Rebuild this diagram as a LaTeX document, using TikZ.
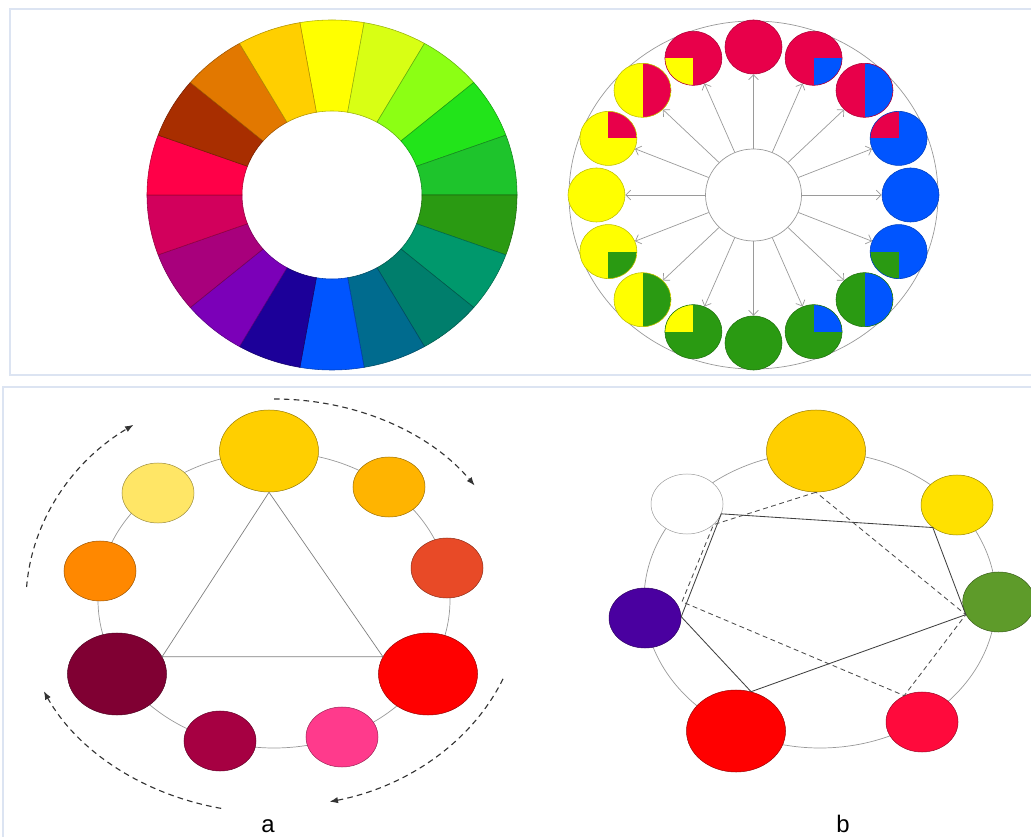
\documentclass[tikz,border=0pt]{standalone}
\usepackage{fontspec}
\setmainfont{Liberation Sans}
\usetikzlibrary{shapes.geometric,arrows.meta}

\definecolor{framecol}{HTML}{DCE4F2}
\definecolor{ringgray}{HTML}{999999}
\definecolor{spokegray}{HTML}{9A9A9A}
\definecolor{cred}{HTML}{E8004A}
\definecolor{cblue}{HTML}{0055FF}
\definecolor{cgreen}{HTML}{2A9A12}
\definecolor{cyellow}{HTML}{FFFF00}
\definecolor{wlime}{HTML}{D8FF14}
\definecolor{wleaf}{HTML}{8CFF14}
\definecolor{wgrass}{HTML}{22E41A}
\definecolor{wfern}{HTML}{1EC42C}
\definecolor{wjade}{HTML}{00986C}
\definecolor{wteal}{HTML}{007E6C}
\definecolor{wpetrol}{HTML}{006B8E}
\definecolor{windigo}{HTML}{1C0099}
\definecolor{wviolet}{HTML}{7B00B8}
\definecolor{wplum}{HTML}{A8007C}
\definecolor{wrose}{HTML}{D2005C}
\definecolor{wscarlet}{HTML}{FF0048}
\definecolor{wrust}{HTML}{A82E00}
\definecolor{wamber}{HTML}{E27800}
\definecolor{agold}{HTML}{FFCF00}
\definecolor{aamber}{HTML}{FFB400}
\definecolor{avermil}{HTML}{E84A27}
\definecolor{ared}{HTML}{FF0000}
\definecolor{apink}{HTML}{FF3A8C}
\definecolor{acrimson}{HTML}{A60042}
\definecolor{amaroon}{HTML}{800033}
\definecolor{aorange}{HTML}{FF8800}
\definecolor{alemon}{HTML}{FFE666}
\definecolor{byellow}{HTML}{FFE100}
\definecolor{bgreen}{HTML}{5E9B2A}
\definecolor{bpurple}{HTML}{4A00A0}
\definecolor{bcrimson}{HTML}{FF0A3C}

\newcommand{\ringpart}[3]{%
  \filldraw[fill=#3, draw=#3!70!black, line width=0.4pt]
    (#1:185 and 175) arc[start angle=#1, end angle=#2, x radius=185, y radius=175]
    -- (#2:90 and 84) arc[start angle=#2, end angle=#1, x radius=90, y radius=84] -- cycle;}

\tikzset{
  disc/.style={ellipse, inner sep=0pt, minimum width=1.425cm, minimum height=1.35cm,
    fill=#1, draw=#1!75!black, line width=0.4pt},
  qnw/.style={path picture={\fill[#1] (path picture bounding box.center) rectangle (path picture bounding box.north west);}},
  qne/.style={path picture={\fill[#1] (path picture bounding box.center) rectangle (path picture bounding box.north east);}},
  qsw/.style={path picture={\fill[#1] (path picture bounding box.center) rectangle (path picture bounding box.south west);}},
  qse/.style={path picture={\fill[#1] (path picture bounding box.center) rectangle (path picture bounding box.south east);}},
  halfe/.style={path picture={\fill[#1] (path picture bounding box.north) rectangle (path picture bounding box.south east);}},
  hub/.style={ellipse, inner sep=0pt, minimum width=2.4cm, minimum height=2.3cm,
    draw=spokegray, fill=white, line width=0.5pt},
  spoke/.style={draw=spokegray, line width=0.5pt, -{Straight Barb[length=3.5pt,width=7pt]}},
  blob/.style={ellipse, inner sep=0pt, fill=#1, draw=#1!60!black, line width=0.35pt},
  bigblob/.style={minimum width=2.475cm, minimum height=2.05cm},
  smallblob/.style={minimum width=1.8cm, minimum height=1.5cm},
  ringline/.style={draw=ringgray, line width=0.5pt},
  tri/.style={draw=black!50, line width=0.5pt},
  sweep/.style={draw=black!80, line width=0.8pt, dash pattern=on 4pt off 3pt,
    -{Latex[length=6pt,width=4.5pt]}},
  pair/.style={draw=black!75, line width=0.6pt},
  pairdash/.style={draw=black!70, line width=0.6pt, dash pattern=on 3.5pt off 2.5pt},
  caption/.style={anchor=base, inner sep=0pt, font=\fontsize{17}{19}\selectfont}
}

\begin{document}
\begin{tikzpicture}[x=0.025cm, y=0.025cm]
                \useasboundingbox (0,0) rectangle (1031,836);
                \draw[framecol, line width=1.4pt] (10,461) rectangle (1045,827);
                \draw[framecol, line width=1.4pt] (3,-10) rectangle (1045,449);

                \begin{scope}[shift={(332,641)}]
                \ringpart{80}{100}{cyellow}
                \ringpart{60}{80}{wlime}
                \ringpart{40}{60}{wleaf}
                \ringpart{20}{40}{wgrass}
                \ringpart{0}{20}{wfern}
                \ringpart{-20}{0}{cgreen}
                \ringpart{-40}{-20}{wjade}
                \ringpart{-60}{-40}{wteal}
                \ringpart{-80}{-60}{wpetrol}
                \ringpart{-100}{-80}{cblue}
                \ringpart{-120}{-100}{windigo}
                \ringpart{-140}{-120}{wviolet}
                \ringpart{-160}{-140}{wplum}
                \ringpart{-180}{-160}{wrose}
                \ringpart{160}{180}{wscarlet}
                \ringpart{140}{160}{wrust}
                \ringpart{120}{140}{wamber}
                \ringpart{100}{120}{agold}
                \end{scope}

                \draw[ringline] (753.5,641) ellipse [x radius=184.5, y radius=174];
                \node[hub] (hub) at (753.5,641) {};
                \node[disc=cred] (c1) at (753.5,789) {};
                \node[disc=cred, qse=cblue] (c2) at (813.6,777.7) {};
                \node[disc=cred, halfe=cblue] (c3) at (864.5,745.7) {};
                \node[disc=cblue, qnw=cred] (c4) at (898.6,697.6) {};
                \node[disc=cblue] (c5) at (910.5,641) {};
                \node[disc=cblue, qsw=cgreen] (c6) at (898.6,584.4) {};
                \node[disc=cgreen, halfe=cblue] (c7) at (864.5,536.3) {};
                \node[disc=cgreen, qne=cblue] (c8) at (813.6,504.3) {};
                \node[disc=cgreen] (c9) at (753.5,493) {};
                \node[disc=cgreen, qnw=cyellow] (c10) at (693.4,504.3) {};
                \node[disc=cyellow, halfe=cgreen] (c11) at (642.5,536.3) {};
                \node[disc=cyellow, qse=cgreen] (c12) at (608.4,584.4) {};
                \node[disc=cyellow] (c13) at (596.5,641) {};
                \node[disc=cyellow, qne=cred] (c14) at (608.4,697.6) {};
                \node[disc=cyellow, halfe=cred] (c15) at (642.5,745.7) {};
                \node[disc=cred, qsw=cyellow] (c16) at (693.4,777.7) {};
                \draw[spoke] (hub) -- (c1);
                \draw[spoke] (hub) -- (c2);
                \draw[spoke] (hub) -- (c3);
                \draw[spoke] (hub) -- (c4);
                \draw[spoke] (hub) -- (c5);
                \draw[spoke] (hub) -- (c6);
                \draw[spoke] (hub) -- (c7);
                \draw[spoke] (hub) -- (c8);
                \draw[spoke] (hub) -- (c9);
                \draw[spoke] (hub) -- (c10);
                \draw[spoke] (hub) -- (c11);
                \draw[spoke] (hub) -- (c12);
                \draw[spoke] (hub) -- (c13);
                \draw[spoke] (hub) -- (c14);
                \draw[spoke] (hub) -- (c15);
                \draw[spoke] (hub) -- (c16);

                \draw[ringline] (274,236) ellipse [x radius=176, y radius=148];
                \node[blob=agold, bigblob] (gold) at (269,385) {};
                \node[blob=aamber, smallblob] (amber) at (389,349) {};
                \node[blob=avermil, smallblob] (vermil) at (447,268) {};
                \node[blob=ared, bigblob] (red) at (428,162) {};
                \node[blob=apink, smallblob] (pink) at (342,99) {};
                \node[blob=acrimson, smallblob] (crimson) at (220,95) {};
                \node[blob=amaroon, bigblob] (maroon) at (117,162) {};
                \node[blob=aorange, smallblob] (orange) at (100,265) {};
                \node[blob=alemon, smallblob] (lemon) at (158,343) {};
                \draw[tri] (gold.south) -- (red.159) -- (maroon.21) -- cycle;
                \coordinate (actr) at (274,234);
                \draw[sweep] ([shift={(176:248 and 215)}]actr) arc[start angle=176, end angle=124.5, x radius=248, y radius=215];
                \draw[sweep] ([shift={(90:245 and 203)}]actr) arc[start angle=90, end angle=35, x radius=245, y radius=203];
                \draw[sweep] ([shift={(-22:247 and 205)}]actr) arc[start angle=-22, end angle=-77, x radius=247, y radius=205];
                \draw[sweep] ([shift={(-102:254 and 211)}]actr) arc[start angle=-102, end angle=-155, x radius=254, y radius=211];
                \node[caption] (capa) at (268,4) {a};

                \draw[ringline] (820,236) ellipse [x radius=176, y radius=148];
                \node[blob=agold, bigblob] (bgold) at (816,385) {};
                \node[blob=white, smallblob] (bwhite) at (687,332) {};
                \node[blob=byellow, smallblob] (byellow) at (957,331) {};
                \node[blob=bgreen, smallblob] (bgreen) at (998.7,234) {};
                \node[blob=bpurple, smallblob] (bpurple) at (645,218) {};
                \node[blob=ared, bigblob] (bred) at (736,105) {};
                \node[blob=bcrimson, smallblob] (bcrimson) at (922,114) {};
                \draw[pair] (bwhite.-16) -- (byellow.-137) -- (bgreen.201) -- (bred.69) -- (bpurple.2) -- cycle;
                \coordinate (bkink) at ([shift={(5,2)}]bpurple.24);
                \draw[pairdash] (bgold.south) -- (bwhite.-38) -- (bkink) -- (bcrimson.124) -- (bgreen.201) -- cycle;
                \node[caption] (capb) at (843,4) {b};
\end{tikzpicture}
\end{document}
